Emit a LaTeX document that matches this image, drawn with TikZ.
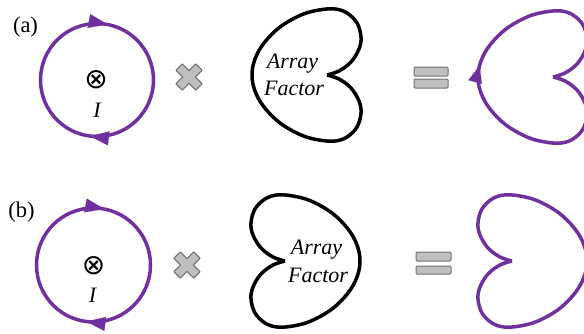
\documentclass[tikz,border=0pt]{standalone}
\usepackage{fontspec}
\setmainfont{Liberation Serif}
\newfontfamily\symfont{DejaVu Sans}
\usetikzlibrary{arrows.meta,decorations.markings}
\definecolor{loopc}{HTML}{7030A0}
\definecolor{grayfill}{HTML}{BFBFBF}
\definecolor{grayline}{HTML}{707070}
\tikzset{
  loopline/.style={draw=loopc, line width=3.5pt},
  afline/.style={draw=black, line width=3.5pt},
  lbl/.style={font=\fontsize{22.5}{26}\selectfont, inner sep=0pt},
  aftext/.style={font=\fontsize{22}{26}\selectfont\itshape, inner sep=0pt, anchor=base},
  curr/.style={font=\fontsize{22}{26}\selectfont\itshape, inner sep=0pt},
  otimesnode/.style={font=\fontsize{28}{30}\symfont, inner sep=0pt},
  opsign/.style={fill=grayfill, draw=grayline, line width=1pt, line join=round},
  looparrows/.style 2 args={postaction={decorate}, decoration={markings,
      mark=at position #1 with {\arrow[loopc]{Triangle[length=19pt,width=14pt,line width=0.1pt]}},
      mark=at position #2 with {\arrow[loopc]{Triangle[length=19pt,width=14pt,line width=0.1pt]}}}},
  onearrow/.style={postaction={decorate}, decoration={markings,
      mark=at position #1 with {\arrow[loopc]{Triangle[length=17pt,width=14pt,line width=0.1pt]}}}},
}
\def\lobeplot{plot[smooth, tension=0.6] coordinates {(0,0) (12,-4) (24,-13) (32,-26) (34,-38) (30,-52) (20,-62) (8,-66) (-8,-65) (-26,-60) (-47,-48) (-63,-32) (-72,-16) (-75,0) (-72,16) (-63,32) (-47,48) (-26,60) (-8,65) (8,66) (20,62) (30,52) (34,38) (32,26) (24,13) (12,4) (0,0)}}
\def\crossplot{(-4.5,14) -- (4.5,14) -- (4.5,4.5) -- (14,4.5) -- (14,-4.5) -- (4.5,-4.5) -- (4.5,-14) -- (-4.5,-14) -- (-4.5,-4.5) -- (-14,-4.5) -- (-14,4.5) -- (-4.5,4.5) -- cycle}
\begin{document}
\begin{tikzpicture}[x=1pt,y=1pt]
\useasboundingbox (0,0) rectangle (584,333);
% ---------- (a) ----------
\node[lbl] (labA) at (25.5,305.5) {(a)};
\coordinate (loopA) at (97,253);
\draw[loopline, looparrows={0.03}{0.52}] (loopA) ++(0,56.5) arc[start angle=90, end angle=-270, radius=56.5] -- cycle;
\node[otimesnode] (otA) at (96,253) {⊗};
\node[curr] (IA) at (97,223) {I};
\draw[opsign, shift={(189,256)}, rotate=45] \crossplot;
\coordinate (afA) at (327,258);
\draw[afline, shift={(afA)}] \lobeplot;
\node[aftext] (afA1) at (292.5,265) {Array};
\node[aftext] (afA2) at (294,238) {Factor};
\draw[opsign, rounded corners=1pt] (414,257) rectangle (448,266);
\draw[opsign, rounded corners=1pt] (414,245) rectangle (448,254);
\coordinate (resA) at (553,256);
\draw[loopline, onearrow=0.527, shift={(resA)}] \lobeplot;
% ---------- (b) ----------
\node[lbl] (labB) at (21.5,120.5) {(b)};
\coordinate (loopB) at (93.5,68);
\draw[loopline, looparrows={0.03}{0.52}] (loopB) ++(0,57) arc[start angle=90, end angle=-270, radius=57] -- cycle;
\node[otimesnode] (otB) at (93.5,67) {⊗};
\node[curr] (IB) at (92.5,37.5) {I};
\draw[opsign, shift={(187,68)}, rotate=45] \crossplot;
\coordinate (afB) at (285,72);
\draw[afline, shift={(afB)}, xscale=-1] \lobeplot;
\node[aftext] (afB1) at (316.5,79) {Array};
\node[aftext] (afB2) at (318,51) {Factor};
\draw[opsign, rounded corners=1pt] (416,72) rectangle (451,81);
\draw[opsign, rounded corners=1pt] (416,59) rectangle (451,67);
\coordinate (resB) at (512,72);
\draw[loopline, shift={(resB)}, xscale=-1] \lobeplot;
\end{tikzpicture}
\end{document}
